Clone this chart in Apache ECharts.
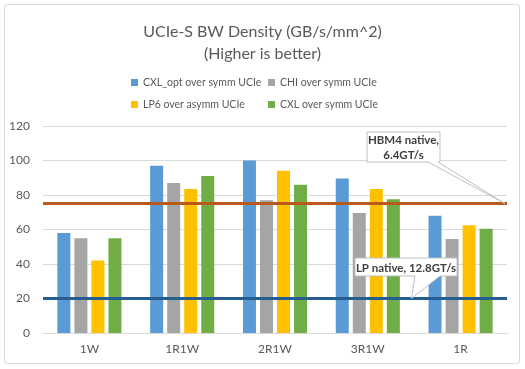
<!DOCTYPE html>
<html><head><meta charset="utf-8">
<script src="https://cdn.jsdelivr.net/npm/echarts@6/dist/echarts.min.js"></script>
<style>
html,body{margin:0;padding:0;background:#fff;}
#frame{position:absolute;left:4px;top:4px;width:516px;height:360px;border:1px solid #d9d9d9;border-radius:3px;box-sizing:border-box;}
#c{position:absolute;left:0;top:0;width:525px;height:369px;}
</style></head>
<body>
<div id="frame"></div>
<div id="c"></div>
<script>
const categories = ['1W','1R1W','2R1W','3R1W','1R'];
const cxlOpt = [58, 97, 100, 89.5, 68];
const chi    = [55, 87, 77, 69.5, 54.5];
const lp6    = [42, 83.5, 94, 83.5, 62.5];
const cxl    = [55, 91, 86, 77.5, 60.5];
const hbm4Native = 75;
const lpNative = 20;
const yTicks = [0,20,40,60,80,100,120];
const seriesNames = ['CXL_opt over symm UCIe','CHI over symm UCIe','LP6 over asymm UCIe','CXL over symm UCIe'];
const colors = ['#5B9BD5','#A5A5A5','#FFC000','#70AD47'];

const FONT = 'Lato';
const chart = echarts.init(document.getElementById('c'));
const data = [cxlOpt, chi, lp6, cxl];
const series = data.map((d,i)=>({
  name: seriesNames[i], type:'bar', data:d, barWidth:13, barGap:'31%',
  itemStyle:{color:colors[i]}, animation:false
}));
series[0].markLine = {
  symbol:'none', silent:true, animation:false, label:{show:false},
  data:[
    {yAxis:hbm4Native, lineStyle:{color:'#B85A1C', width:3, type:'solid'}},
    {yAxis:lpNative, lineStyle:{color:'#255E91', width:3, type:'solid'}}
  ]
};
const legendText = {color:'#595959', fontSize:10.5, fontFamily:FONT};
chart.setOption({
  animation:false,
  title:{text:'UCIe-S BW Density (GB/s/mm^2)\n(Higher is better)', left:'center', top:16,
    textStyle:{color:'#595959', fontSize:16, fontWeight:'normal', fontFamily:FONT, lineHeight:22}},
  legend:[
    {data:[seriesNames[0],seriesNames[2]], orient:'vertical', left:126, top:72, itemWidth:7, itemHeight:7, itemGap:11, textStyle:legendText, icon:'rect'},
    {data:[seriesNames[1],seriesNames[3]], orient:'vertical', left:263, top:72, itemWidth:7, itemHeight:7, itemGap:11, textStyle:legendText, icon:'rect'}
  ],
  grid:{left:43, right:18, top:126, bottom:36},
  xAxis:{type:'category', data:categories,
    axisLine:{lineStyle:{color:'#d9d9d9'}}, axisTick:{show:false},
    axisLabel:{color:'#595959', fontSize:12, fontFamily:FONT, margin:10}},
  yAxis:{type:'value', min:0, max:120, interval:20,
    axisLine:{show:false}, axisTick:{show:false},
    splitLine:{lineStyle:{color:'#d9d9d9'}},
    axisLabel:{color:'#595959', fontSize:12, fontFamily:FONT, margin:13,
      formatter:v=>yTicks.includes(v)?String(v):''}},
  series
});

// Callouts
const rect = chart.getModel().getComponent('grid',0).coordinateSystem.getRect();
const yH = chart.convertToPixel({yAxisIndex:0}, hbm4Native);
const yL = chart.convertToPixel({yAxisIndex:0}, lpNative);
const x3 = chart.convertToPixel({xAxisIndex:0}, '3R1W');
const x4 = chart.convertToPixel({xAxisIndex:0}, '1R');
function callout(bx,by,bw,bh,b1,b2,tx,ty,text){
  return [{
    type:'polygon', silent:true, z:100,
    shape:{points:[[bx,by],[bx+bw,by],[bx+bw,by+bh],[b2,by+bh],[tx,ty],[b1,by+bh],[bx,by+bh]]},
    style:{fill:'#fff', stroke:'#bfbfbf', lineWidth:1}
  },{
    type:'text', silent:true, z:101, x:bx+bw/2, y:by+bh/2+1,
    style:{text:text, fill:'#404040', font:'bold 11.5px '+FONT, align:'center', verticalAlign:'middle', lineHeight:15}
  }];
}
const tipH = [rect.x+rect.width-2, yH];
const tipL = [x3+(x4-x3)*0.47, yL];
chart.setOption({graphic:[
  ...callout(367,132,73,30,428,438,tipH[0],tipH[1],'HBM4 native,\n6.4GT/s'),
  ...callout(355,258,102,18,415,440,tipL[0],tipL[1],'LP native, 12.8GT/s')
]});
</script>
</body></html>
